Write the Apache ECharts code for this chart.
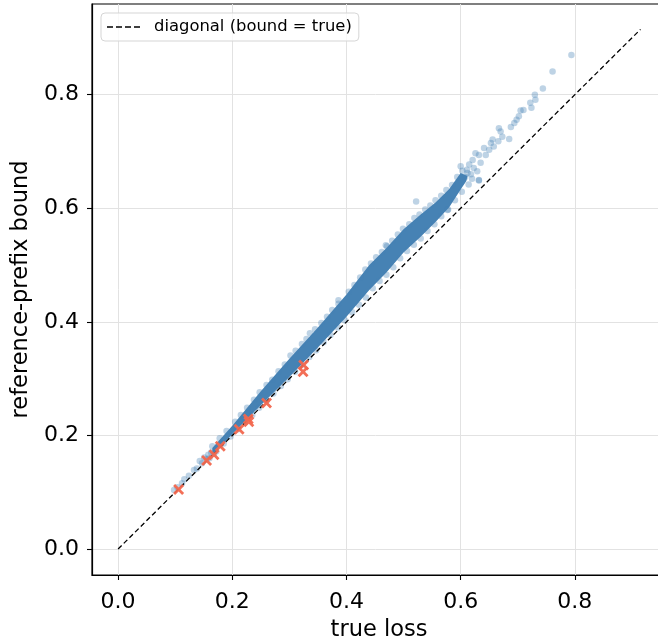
<!DOCTYPE html>
<html>
<head>
<meta charset="utf-8">
<script src="https://cdn.jsdelivr.net/npm/echarts@6/dist/echarts.min.js"></script>
<style>
  html, body { margin: 0; padding: 0; background: #fff; }
  #chart { width: 658px; height: 641px; }
</style>
</head>
<body>
<div id="chart"></div>
<script>
// tick labels shown on both axes
const tickValues = [0, 0.2, 0.4, 0.6, 0.8];

// edges of the dense (fully overlapped) part of the point cloud
const bandLower = [[0.165,0.166],[0.20,0.202],[0.25,0.253],[0.30,0.303],[0.35,0.355],[0.40,0.409],[0.44,0.456],[0.47,0.487],[0.50,0.522],[0.53,0.550],[0.556,0.576],[0.58,0.602],[0.60,0.633],[0.61,0.648]];
const bandUpper = [[0.612,0.657],[0.60,0.662],[0.58,0.634],[0.556,0.610],[0.53,0.589],[0.50,0.563],[0.47,0.530],[0.44,0.500],[0.40,0.448],[0.35,0.390],[0.30,0.335],[0.25,0.278],[0.20,0.217],[0.165,0.178]];

// individual points visible around the dense band
const upperPoints = [
  [0.165,0.181],[0.178,0.195],[0.19,0.208],[0.205,0.224],[0.215,0.236],[0.226,0.249],[0.238,0.263],
  [0.248,0.276],[0.26,0.289],[0.27,0.298],[0.281,0.313],[0.292,0.325],[0.302,0.341],[0.311,0.349],
  [0.322,0.361],[0.33,0.37],[0.336,0.38],[0.345,0.387],[0.356,0.398],[0.366,0.409],[0.375,0.421],
  [0.386,0.432],[0.386,0.438],[0.404,0.453],[0.414,0.465],[0.424,0.478],[0.433,0.492],[0.443,0.503],
  [0.452,0.514],[0.462,0.523],[0.471,0.533],[0.48,0.543],[0.49,0.554],[0.499,0.564],[0.51,0.572],
  [0.519,0.583],[0.528,0.589],[0.538,0.598],[0.547,0.605],[0.556,0.614],[0.566,0.622],[0.575,0.632],
  [0.585,0.641],[0.594,0.655],[0.603,0.666],[0.522,0.612],[0.469,0.535],[0.611,0.668]
];
const lowerPoints = [
  [0.16,0.16],[0.172,0.172],[0.185,0.186],[0.197,0.198],[0.21,0.211],[0.222,0.223],[0.235,0.236],
  [0.247,0.249],[0.26,0.261],[0.272,0.274],[0.285,0.287],[0.297,0.299],[0.31,0.312],[0.322,0.325],
  [0.335,0.338],[0.347,0.35],[0.36,0.364],[0.372,0.377],[0.385,0.39],[0.397,0.403],[0.41,0.417],
  [0.422,0.43],[0.434,0.443],[0.446,0.459],[0.458,0.472],[0.47,0.483],[0.482,0.496],[0.494,0.512],
  [0.506,0.525],[0.518,0.536],[0.53,0.547],[0.542,0.56],[0.554,0.572],[0.566,0.586],[0.578,0.598],
  [0.59,0.614],[0.602,0.629],[0.614,0.642],[0.577,0.597],[0.632,0.649],[0.608,0.655],[0.618,0.66],[0.62,0.652]
];
const tailPoints = [
  [0.794,0.870],[0.761,0.841],[0.744,0.811],[0.730,0.800],[0.731,0.791],[0.722,0.786],[0.724,0.777],
  [0.710,0.773],[0.705,0.772],[0.702,0.762],[0.698,0.756],[0.694,0.750],[0.688,0.743],[0.685,0.722],
  [0.673,0.726],[0.670,0.735],[0.667,0.741],[0.666,0.718],[0.656,0.721],[0.653,0.715],[0.650,0.703],
  [0.658,0.709],[0.641,0.706],[0.644,0.694],[0.632,0.694],[0.626,0.697],[0.635,0.680],[0.621,0.685],
  [0.623,0.671],[0.629,0.665],[0.632,0.650],[0.600,0.674],[0.615,0.677],[0.612,0.662]
];
const lowPoints = [
  [0.098,0.104],[0.104,0.109],[0.112,0.116],[0.116,0.123],[0.124,0.129],[0.133,0.139],[0.138,0.142],
  [0.143,0.155],[0.147,0.151],[0.151,0.161],[0.155,0.158],[0.158,0.166],[0.163,0.17],[0.168,0.168]
];

// points where the bound falls below the true loss
const crossPoints = [
  [0.106,0.105],[0.155,0.156],[0.168,0.166],[0.179,0.181],[0.212,0.211],
  [0.228,0.229],[0.229,0.224],[0.260,0.257],[0.325,0.324],[0.324,0.312]
];

// diagonal bound = true
const diagonal = [[0, 0], [0.915, 0.915]];

const font = 'DejaVu Sans';
const xShape = 'path://M1.8,0L5,3.2L8.2,0L10,1.8L6.8,5L10,8.2L8.2,10L5,6.8L1.8,10L0,8.2L3.2,5L0,1.8Z';
const dashIcon = 'path://M0,0h6v1.4h-6zM9,0h6v1.4h-6zM18,0h6v1.4h-6zM27,0h6v1.4h-6z';

let myChart = echarts.init(document.getElementById('chart'));

function axisCommon(name) {
  return {
    type: 'value',
    min: -0.0457,
    max: 0.9597,
    splitNumber: 5,
    name: name,
    nameLocation: 'middle',
    nameTextStyle: { fontFamily: font, fontSize: 22.5, color: '#000' },
    axisLine: { show: true, onZero: false, lineStyle: { color: '#000', width: 1.2 } },
    axisTick: { show: true, customValues: tickValues, length: 5, lineStyle: { color: '#000', width: 1.1 } },
    axisLabel: {
      customValues: tickValues,
      fontFamily: font,
      fontSize: 22,
      color: '#000',
      formatter: v => v.toFixed(1)
    },
    splitLine: { show: true, lineStyle: { color: '#e2e2e2', width: 1 } }
  };
}

let xAxis = axisCommon('true loss');
xAxis.nameGap = 44;
xAxis.axisLabel.margin = 16;
let yAxis = axisCommon('reference-prefix bound');
yAxis.nameGap = 58;
yAxis.axisLabel.margin = 13;

let option = {
  animation: false,
  grid: {
    left: 92, top: 4, width: 574, height: 571,
    outerBoundsMode: 'none',
    show: true, borderColor: '#000', borderWidth: 1.2
  },
  legend: {
    data: [{ name: 'diagonal (bound = true)', icon: dashIcon }],
    left: 101, top: 13,
    padding: [6, 7, 6, 6],
    itemWidth: 33, itemHeight: 14,
    itemStyle: { color: '#000', borderWidth: 0 },
    backgroundColor: 'rgba(255,255,255,0.8)',
    borderColor: '#d5d5d5', borderWidth: 1, borderRadius: 4,
    textStyle: { fontFamily: font, fontSize: 16.4, color: '#000', padding: [0, 0, 0, 9] }
  },
  xAxis: xAxis,
  yAxis: yAxis,
  series: [
    {
      name: 'dense',
      type: 'custom',
      silent: true,
      z: 1,
      data: [[0.4, 0.4]],
      renderItem: function (params, api) {
        const pts = bandLower.concat(bandUpper).map(p => api.coord(p));
        return { type: 'polygon', shape: { points: pts }, style: { fill: '#4682b4' } };
      }
    },
    {
      name: 'samples',
      type: 'scatter',
      z: 2,
      symbolSize: 6.5,
      data: upperPoints.concat(lowerPoints, tailPoints, lowPoints),
      itemStyle: { color: '#4682b4', opacity: 0.35 }
    },
    {
      name: 'diagonal (bound = true)',
      type: 'line',
      z: 3,
      color: '#000',
      data: diagonal,
      symbol: 'none',
      lineStyle: { color: '#000', width: 1.3, type: [5, 3] }
    },
    {
      name: 'violations',
      type: 'scatter',
      z: 4,
      symbol: xShape,
      symbolSize: 11,
      data: crossPoints,
      itemStyle: { color: '#f2674e', opacity: 0.95 }
    }
  ]
};

myChart.setOption(option);
</script>
</body>
</html>
